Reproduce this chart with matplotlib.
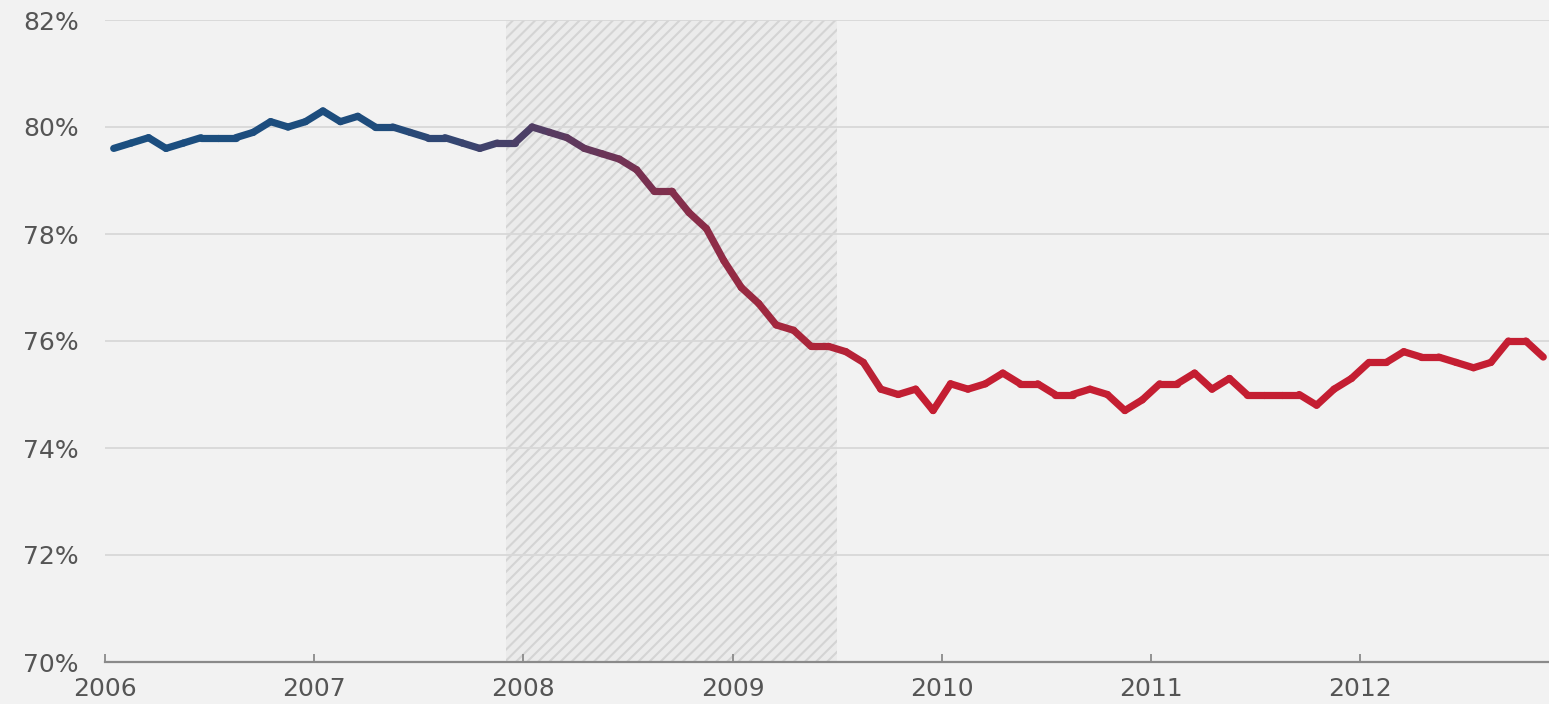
import matplotlib
matplotlib.use('agg')
import matplotlib.pyplot as plt
import numpy as np
from matplotlib.collections import LineCollection
from matplotlib.colors import LinearSegmentedColormap
from matplotlib.ticker import FuncFormatter

# monthly employment rate (%), Jan 2006 - Nov 2012
rate_2006 = [79.6, 79.7, 79.8, 79.6, 79.7, 79.8, 79.8, 79.8, 79.9, 80.1, 80.0, 80.1]
rate_2007 = [80.3, 80.1, 80.2, 80.0, 80.0, 79.9, 79.8, 79.8, 79.7, 79.6, 79.7, 79.7]
rate_2008 = [80.0, 79.9, 79.8, 79.6, 79.5, 79.4, 79.2, 78.8, 78.8, 78.4, 78.1, 77.5]
rate_2009 = [77.0, 76.7, 76.3, 76.2, 75.9, 75.9, 75.8, 75.6, 75.1, 75.0, 75.1, 74.7]
rate_2010 = [75.2, 75.1, 75.2, 75.4, 75.2, 75.2, 75.0, 75.0, 75.1, 75.0, 74.7, 74.9]
rate_2011 = [75.2, 75.2, 75.4, 75.1, 75.3, 75.0, 75.0, 75.0, 75.0, 74.8, 75.1, 75.3]
rate_2012 = [75.6, 75.6, 75.8, 75.7, 75.7, 75.6, 75.5, 75.6, 76.0, 76.0, 75.7]

start_year = 2006
years = [2006, 2007, 2008, 2009, 2010, 2011, 2012]
y_ticks = [70, 72, 74, 76, 78, 80, 82]

# recession: Dec 2007 through Jun 2009
recession_start = 2007 + 11 / 12
recession_end = 2009 + 6 / 12

rates = np.array(rate_2006 + rate_2007 + rate_2008 + rate_2009
                 + rate_2010 + rate_2011 + rate_2012)
# each month sits in the middle of its slot
t = start_year + (np.arange(len(rates)) + 0.5) / 12

bg = '#f2f2f2'
plt.rcParams['font.family'] = ['DejaVu Sans']
plt.rcParams['hatch.color'] = '#d4d4d4'
plt.rcParams['hatch.linewidth'] = 1.5

fig = plt.figure(figsize=(15.49, 7.04), dpi=100, facecolor=bg)
ax = fig.add_axes([105 / 1549, 42 / 704, 1 - 105 / 1549, 642 / 704])
ax.set_facecolor(bg)

x_right = 2006 + (1549 - 105) / 209.2
ax.set_xlim(2006, x_right)
ax.set_ylim(70, 82)

# hatched recession band
ax.axvspan(recession_start, recession_end, facecolor='#ebebeb',
           hatch='///', edgecolor='#d4d4d4', linewidth=0, zorder=1)

for v in y_ticks[1:]:
    ax.axhline(v, color='#d8d8d8', linewidth=1.3, zorder=2)

# line coloured from blue to red over time
cmap = LinearSegmentedColormap.from_list('blue_red', [
    (0.0, '#1b4f80'),
    ((2007.3 - 2006) / 7, '#1e4c7c'),
    ((2008.0 - 2006) / 7, '#4b3f66'),
    ((2008.6 - 2006) / 7, '#7a3150'),
    ((2009.3 - 2006) / 7, '#a8263b'),
    ((2009.9 - 2006) / 7, '#c41e32'),
    (1.0, '#c41e32')])
pts = np.column_stack([t, rates]).reshape(-1, 1, 2)
segs = np.concatenate([pts[:-1], pts[1:]], axis=1)
mids = (t[:-1] + t[1:]) / 2
lc = LineCollection(segs, colors=cmap((mids - 2006) / 7), linewidths=5.2,
                    capstyle='round', joinstyle='round', zorder=3)
ax.add_collection(lc)

for s in ['top', 'right', 'left']:
    ax.spines[s].set_visible(False)
ax.spines['bottom'].set_color('#8a8a8a')
ax.spines['bottom'].set_linewidth(1.6)
ax.spines['bottom'].set_zorder(4)

ax.set_xticks(years)
ax.set_xticklabels([str(y) for y in years])
ax.set_yticks(y_ticks)
ax.yaxis.set_major_formatter(FuncFormatter(lambda v, p: '%d%%' % v))
ax.tick_params(axis='x', direction='in', length=6, width=1.3, color='#8a8a8a',
               labelsize=18, labelcolor='#555555', pad=11)
ax.tick_params(axis='y', length=0, labelsize=18, labelcolor='#555555', pad=19)

fig.savefig('out.png', dpi=100, facecolor=bg)
